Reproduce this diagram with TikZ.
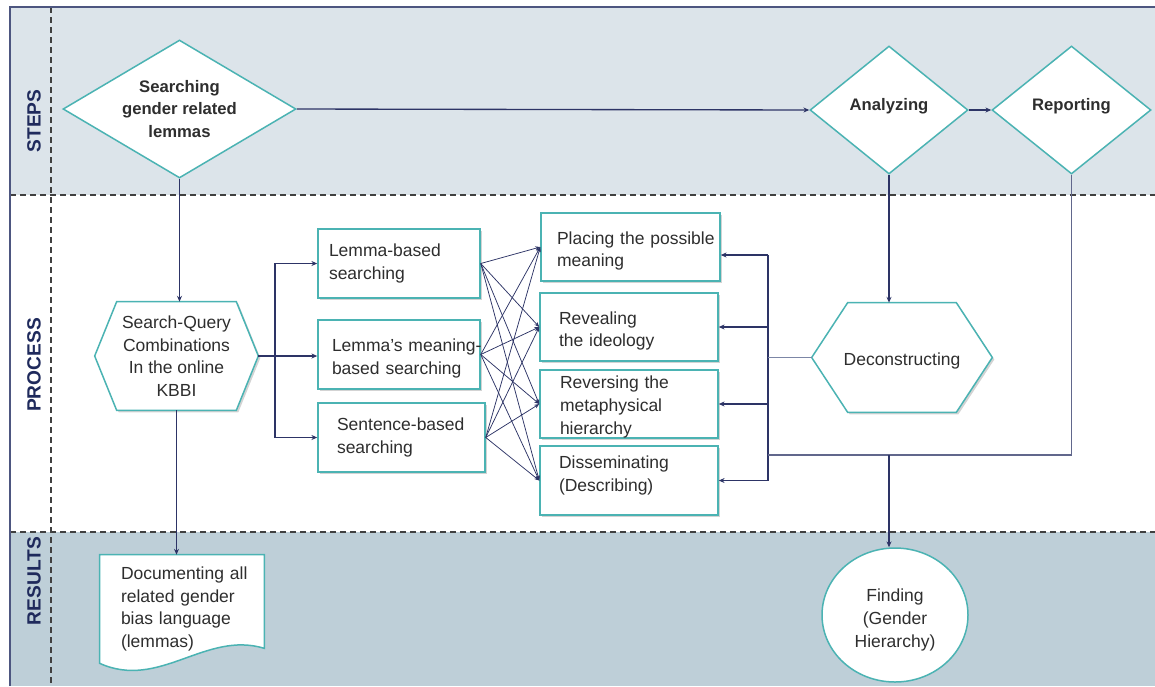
\documentclass[tikz,border=0pt]{standalone}
\usepackage{fontspec}
\setmainfont{Liberation Sans}
\usetikzlibrary{shapes.geometric,shadows,arrows.meta,calc}
\definecolor{tealb}{HTML}{4BB3B3}
\definecolor{navy}{HTML}{2D3466}
\definecolor{lnavy}{HTML}{7C86A6}
\definecolor{stepsbg}{HTML}{DCE4EA}
\definecolor{resbg}{HTML}{BECFD8}
\definecolor{txt}{HTML}{2E2E2E}
\definecolor{lbl}{HTML}{1F2A5C}
\definecolor{framec}{HTML}{4D5680}
\pgfdeclarelayer{bands}
\pgfdeclarelayer{shapes}
\pgfsetlayers{bands,shapes,main}
\newcommand\uph[1]{\rule{0pt}{#1}}
\newcommand\dnd[1]{\rule[-#1]{0pt}{#1}}
\tikzset{
 sh/.style={drop shadow={shadow xshift=1.2pt,shadow yshift=-1.2pt,opacity=0.35,fill=black!50}},
 rbox/.style={rectangle, draw=tealb, line width=0.9pt, fill=white, sh, inner sep=0pt, align=left, text=txt, font=\fontsize{10.5}{13.6}\selectfont},
 dia/.style={diamond, draw=tealb, line width=0.9pt, fill=white, inner sep=0pt, align=center, text=txt, font=\bfseries\fontsize{10}{13.5}\selectfont},
 plain/.style={rectangle, inner sep=0pt, text=txt, font=\fontsize{10.5}{13.6}\selectfont},
 hexline/.style={draw=tealb, line width=0.9pt, fill=white, sh},
 conn/.style={draw=navy, line width=0.8pt},
 arr/.style={conn, -{Stealth[length=3.5pt,width=3pt]}},
 xarr/.style={draw=navy, line width=0.45pt, -{Stealth[length=3pt,width=2.4pt]}},
 divider/.style={draw=black!75, line width=0.7pt, dash pattern=on 3.5pt off 2.5pt},
 side/.style={rotate=90, font=\bfseries\fontsize{11.5}{13}\selectfont, text=lbl},
}
\begin{document}
\begin{tikzpicture}[x=0.6pt,y=-0.6pt]
\useasboundingbox (0,0) rectangle (1155,686);
\begin{pgfonlayer}{bands}
\fill[stepsbg] (10,7) rectangle (1155,195);
\fill[resbg] (10,532) rectangle (1155,686);
\draw[divider] (10,195) -- (1155,195);
\draw[divider] (10,532) -- (1155,532);
\draw[divider] (51,7) -- (51,686);
\draw[framec, line width=0.8pt] (10,686) -- (10,7) -- (1155,7);
\end{pgfonlayer}

% side labels
\node[side] (lsteps) at (34,121) {STEPS};
\node[side] (lproc) at (34,365) {PROCESS};
\node[side] (lres) at (34,581) {RESULTS};

% steps
\node[dia, minimum width=139.8pt, minimum height=82.8pt, aspect=1.69] (sd) at (179.5,109) {Searching\\gender related\\lemmas};
\node[dia, minimum width=94.8pt, minimum height=76.8pt, aspect=1.23] (an) at (889,110) {Analyzing\dnd{7pt}};
\node[dia, minimum width=95.4pt, minimum height=76.8pt, aspect=1.23] (rep) at (1071.5,110) {Reporting\dnd{6.5pt}};

% hexagons
\node[plain, minimum width=97.8pt, minimum height=64.8pt, align=center] (sq) at (176.5,356) {Search-Query\\Combinations\\In the online\\KBBI};
\node[plain, minimum width=108pt, minimum height=65.4pt, align=center] (dc) at (902,357.5) {\uph{11.3pt}Deconstructing};
\begin{pgfonlayer}{shapes}
\draw[hexline] (sq.west) -- ([xshift=13.2pt]sq.north west) -- ([xshift=-13.2pt]sq.north east) -- (sq.east) -- ([xshift=-13.2pt]sq.south east) -- ([xshift=13.2pt]sq.south west) -- cycle;
\draw[hexline] (dc.west) -- ([xshift=21.6pt]dc.north west) -- ([xshift=-21.6pt]dc.north east) -- (dc.east) -- ([xshift=-21.6pt]dc.south east) -- ([xshift=21.6pt]dc.south west) -- cycle;
\end{pgfonlayer}

% search boxes
\node[rbox, minimum width=97.2pt, minimum height=41.4pt, text width=84pt] (lb) at (399,263.5) {Lemma-based\\searching};
\node[rbox, minimum width=97.2pt, minimum height=41.4pt, text width=80.4pt] (mb) at (399,354.5) {\uph{12.5pt}\mbox{Lemma’s meaning-}\\based searching};
\node[rbox, minimum width=100.2pt, minimum height=41.4pt, text width=77.4pt] (sb) at (401.5,437.5) {\mbox{Sentence-based}\\searching};

% deconstruction boxes
\node[rbox, minimum width=107.4pt, minimum height=40.8pt, text width=88.2pt] (pl) at (630.5,247) {\uph{12.5pt}\mbox{Placing the possible}\\meaning};
\node[rbox, minimum width=106.8pt, minimum height=40.8pt, text width=84pt] (rv) at (629,327) {\uph{12.5pt}Revealing\\the ideology};
\node[rbox, minimum width=106.8pt, minimum height=40.8pt, text width=82.8pt] (rs) at (629,404) {\uph{11.3pt}Reversing the\\metaphysical\\hierarchy};
\node[rbox, minimum width=106.8pt, minimum height=41.4pt, text width=84pt] (ds) at (629,480.5) {Disseminating\\(Describing)\dnd{8pt}};

% results
\node[plain, minimum width=98.4pt, minimum height=64.8pt, text width=73.2pt, align=left] (doc) at (182,609) {\mbox{Documenting all}\\related gender\\bias language\\(lemmas)};
\begin{pgfonlayer}{shapes}
\draw[draw=tealb, line width=0.9pt, fill=white] (doc.north west) -- (doc.north east) -- ($(doc.south east)+(0,-15)$) .. controls ($(doc.south east)+(-59,-33)$) and ($(doc.south west)+(60,27)$) .. (doc.south west) -- cycle;
\end{pgfonlayer}
\node[ellipse, draw=tealb, line width=0.9pt, fill=white, minimum width=87.6pt, minimum height=80.4pt, inner sep=0pt, align=center, text=txt, font=\fontsize{10.5}{13.8}\selectfont] (fd) at (895,615) {\uph{13.6pt}Finding\\(Gender\\Hierarchy)};

% connectors
\coordinate (br) at (275,356);
\coordinate (bt) at (768,255);
\coordinate (bj) at (768,455);
\draw[arr] (sd.east) -- (an.west);
\draw[arr] (an.east) -- (rep.west);
\draw[arr] (sd.south) -- (sd.south |- sq.north);
\draw[arr] (sq.south) -- (sq.south |- doc.north);
\draw[arr] (sq.east) -- (sq.east -| mb.west);
\draw[arr] (br) |- (lb.west);
\draw[arr] (br) |- (sb.west);
\foreach \a in {lb,mb,sb}{\foreach \b in {pl,rv,rs,ds}{\draw[xarr] (\a.east) -- (\b.west);}}
\draw[conn] (bt) -- (bt |- ds.east);
\draw[arr] (bt) -- (bt -| pl.east);
\draw[arr] (bt |- rv.east) -- (rv.east);
\draw[arr] (bt |- rs.east) -- (rs.east);
\draw[arr] (bt |- ds.east) -- (ds.east);
\draw[draw=lnavy, line width=0.5pt] (dc.west) -- (dc.west -| bt);
\draw[arr] (an.south) -- (an.south |- dc.north);
\draw[conn, draw=navy!75] (rep.south) |- (bj);
\draw[arr] (an.south |- bj) -- (an.south |- fd.north);
\end{tikzpicture}
\end{document}
